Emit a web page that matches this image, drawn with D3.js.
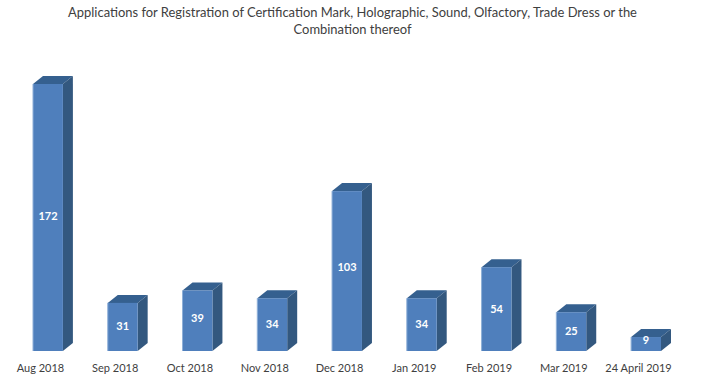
<!DOCTYPE html>
<html>
<head>
<meta charset="utf-8">
<script src="https://cdn.jsdelivr.net/npm/d3@7"></script>
<style>
    html, body { margin: 0; padding: 0; background: #fff; overflow: hidden; }
    text { font-family: Lato, "Open Sans", sans-serif; }
</style>
</head>
<body>
<div id="chart"></div>
<script>
    const months = ["Aug 2018", "Sep 2018", "Oct 2018", "Nov 2018", "Dec 2018", "Jan 2019", "Feb 2019", "Mar 2019", "24 April 2019"];
    const applications = [172, 31, 39, 34, 103, 34, 54, 25, 9];
    const titleLines = [
        "Applications for Registration of Certification Mark, Holographic, Sound, Olfactory, Trade Dress or the",
        "Combination thereof"
    ];

    const width = 705, height = 388;
    const baseY = 351;
    const depthX = 10, depthY = 8; // fake 3d offset of the bars

    // a few value labels were dragged up by hand in the original
    const labelNudge = { "Aug 2018": -1, "Sep 2018": -1, "Oct 2018": -3, "Dec 2018": -4, "24 April 2019": -4 };

    const svg = d3.select("#chart")
        .append("svg")
        .attr("width", width)
        .attr("height", height);

    // title
    svg.selectAll(".chart-title")
        .data(titleLines)
        .enter()
        .append("text")
        .attr("class", "chart-title")
        .attr("x", 352.5)
        .attr("y", (d, i) => 17 + i * 17)
        .attr("text-anchor", "middle")
        .style("font-size", "12.95px")
        .style("fill", "#404040")
        .text(d => d);

    const xScale = d3.scaleBand()
        .domain(months)
        .range([33, 661])
        .paddingInner(0.6)
        .paddingOuter(0);

    const yScale = d3.scaleLinear()
        .domain([0, 172])
        .range([baseY, 84]);

    const bw = xScale.bandwidth();

    const bars = svg.selectAll(".bar")
        .data(months.map((m, i) => ({ month: m, value: applications[i] })))
        .enter()
        .append("g")
        .attr("class", "bar")
        .attr("transform", d => `translate(${xScale(d.month)}, 0)`);

    // top face
    bars.append("path")
        .attr("fill", "#35608f")
        .attr("d", d => {
            const y = yScale(d.value);
            return `M0,${y}L${depthX},${y - depthY}H${bw + depthX}L${bw},${y}Z`;
        });

    // side face
    bars.append("path")
        .attr("fill", "#33587f")
        .attr("d", d => {
            const y = yScale(d.value);
            return `M${bw},${y}L${bw + depthX},${y - depthY}V${baseY - depthY}L${bw},${baseY}Z`;
        });

    // front face
    bars.append("rect")
        .attr("x", 0)
        .attr("y", d => yScale(d.value))
        .attr("width", bw)
        .attr("height", d => baseY - yScale(d.value))
        .attr("fill", "#4f7fbc");

    // thin light edge on the left of the front face
    bars.append("rect")
        .attr("x", -0.5)
        .attr("y", d => yScale(d.value))
        .attr("width", 1)
        .attr("height", d => baseY - yScale(d.value))
        .attr("fill", "#8fb0d8");

    // value labels
    bars.append("text")
        .attr("x", bw / 2)
        .attr("y", d => (yScale(d.value) + baseY) / 2 + (labelNudge[d.month] || 0))
        .attr("dy", "0.35em")
        .attr("text-anchor", "middle")
        .style("font-size", "11px")
        .style("font-weight", "700")
        .style("fill", "#fff")
        .text(d => d.value);

    // x axis, labels sit a bit left of the bars
    const xAxis = svg.append("g")
        .attr("class", "x-axis")
        .attr("transform", `translate(-7.5, ${baseY})`)
        .call(d3.axisBottom(xScale).tickSize(0).tickPadding(13));

    xAxis.select(".domain").remove();
    xAxis.selectAll("text")
        .style("font-family", "Lato, 'Open Sans', sans-serif")
        .style("font-size", "11px")
        .style("fill", "#404040");
</script>
</body>
</html>
